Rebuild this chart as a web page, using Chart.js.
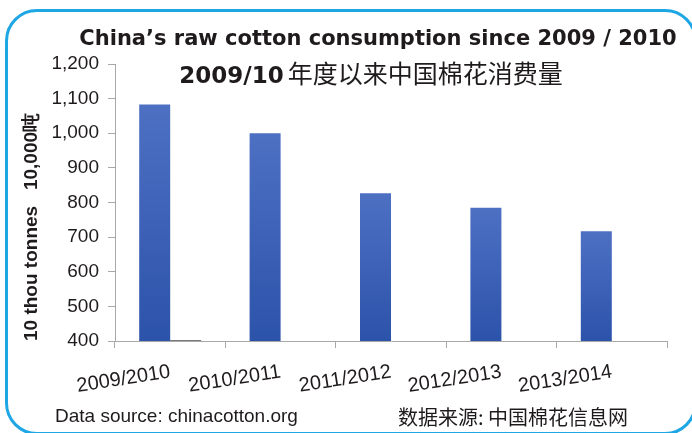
<!DOCTYPE html>
<html>
<head>
<meta charset="utf-8">
<title>China's raw cotton consumption</title>
<script src="https://cdn.jsdelivr.net/npm/chart.js@4.4.1/dist/chart.umd.min.js"></script>
<style>
  html, body { margin: 0; padding: 0; background: #fff; }
  #wrap { position: relative; width: 692px; height: 433px; overflow: hidden; background: #fff; }
  #frame {
    position: absolute; left: 5px; top: 9px; width: 686px; height: 420px;
    border: 3px solid #1ea7e4; border-radius: 32px;
  }
  canvas { position: absolute; left: 0; top: 0; }
  .txt { position: absolute; white-space: nowrap; color: #1f1b1c; line-height: 1; }
  #title { left: 378px; top: 26px; transform: translateX(-50%); font: bold 21px "DejaVu Sans", sans-serif; }
  #subtitle { left: 371px; top: 54px; transform: translateX(-50%); }
  #subtitle .en { font: bold 23px "DejaVu Sans", sans-serif; }
  #subtitle .zh { font: 25px "Noto Sans CJK SC", sans-serif; }
  #srcEn { left: 55px; top: 405px; font: 19px "Liberation Sans", Arial, sans-serif; }
  #srcZh { left: 398px; top: 402px; font: 20px "Noto Sans CJK SC", sans-serif; }
</style>
</head>
<body>
<div id="wrap">
  <canvas id="cottonChart" width="692" height="433"></canvas>
  <div id="frame"></div>
  <div class="txt" id="title">China’s raw cotton consumption since 2009 / 2010</div>
  <div class="txt" id="subtitle"><span class="en">2009/10</span> <span class="zh">年度以来中国棉花消费量</span></div>
  <div class="txt" id="srcEn">Data source: chinacotton.org</div>
  <div class="txt" id="srcZh">数据来源: 中国棉花信息网</div>
</div>
<script>
// Data (10 thou tonnes)
const seasons = ['2009/2010', '2010/2011', '2011/2012', '2012/2013', '2013/2014'];
const consumption = [1083, 1000, 827, 785, 717];
// second, almost empty series (only a sliver shows above the axis for 2009/2010)
const secondSeries = [403, null, null, null, null];
const yMin = 400;
const yMax = 1200;
const yStep = 100;
const yTitle = '10 thou tonnes   10,000吨';

// Vertical gradient for each bar, lighter at the top
function barGradient(context) {
  const chart = context.chart;
  const area = chart.chartArea;
  if (!area || context.parsed === undefined) return '#3a5fb5';
  const y = chart.scales.y;
  const top = y.getPixelForValue(context.parsed.y);
  const g = chart.ctx.createLinearGradient(0, top, 0, area.bottom);
  g.addColorStop(0, '#4d70c3');
  g.addColorStop(1, '#2c53aa');
  return g;
}

const ctx = document.getElementById('cottonChart').getContext('2d');
const axisGrey = '#a8a8a8';
const textColor = '#1f1b1c';

const cottonChart = new Chart(ctx, {
  type: 'bar',
  data: {
    labels: seasons,
    datasets: [{
      label: 'Consumption',
      data: consumption,
      backgroundColor: barGradient,
      borderWidth: 0,
      categoryPercentage: 0.5616,
      barPercentage: 1.0
    }, {
      label: 'Other',
      data: secondSeries,
      backgroundColor: '#7a7a7a',
      borderWidth: 0,
      categoryPercentage: 0.5616,
      barPercentage: 1.0
    }]
  },
  options: {
    responsive: false,
    animation: false,
    devicePixelRatio: 1,
    layout: {
      padding: { left: 0, top: 64, right: 25, bottom: 37 }
    },
    plugins: {
      legend: { display: false },
      tooltip: { enabled: false }
    },
    scales: {
      x: {
        grid: {
          offset: true,
          drawOnChartArea: false,
          drawTicks: true,
          tickLength: 7,
          color: axisGrey
        },
        border: { color: axisGrey, width: 1 },
        ticks: {
          minRotation: 9,
          maxRotation: 9,
          padding: 12,
          color: textColor,
          font: { family: '"Liberation Sans", Arial, sans-serif', size: 20 }
        },
        afterFit: function(scale) { scale.height = 55; }
      },
      y: {
        min: yMin,
        max: yMax,
        grid: {
          drawOnChartArea: false,
          drawTicks: true,
          tickLength: 7,
          color: axisGrey
        },
        border: { color: axisGrey, width: 1 },
        ticks: {
          stepSize: yStep,
          padding: 9,
          color: textColor,
          font: { family: '"Liberation Sans", Arial, sans-serif', size: 19 },
          callback: function(value) { return value.toLocaleString('en-US'); }
        },
        title: {
          display: true,
          text: yTitle,
          align: 'start',
          color: textColor,
          padding: { top: 20, bottom: 0 },
          font: { family: '"Liberation Sans", Arial, sans-serif', size: 19, weight: 'bold' }
        },
        afterFit: function(scale) { scale.width = 115; }
      }
    }
  }
});
</script>
</body>
</html>
